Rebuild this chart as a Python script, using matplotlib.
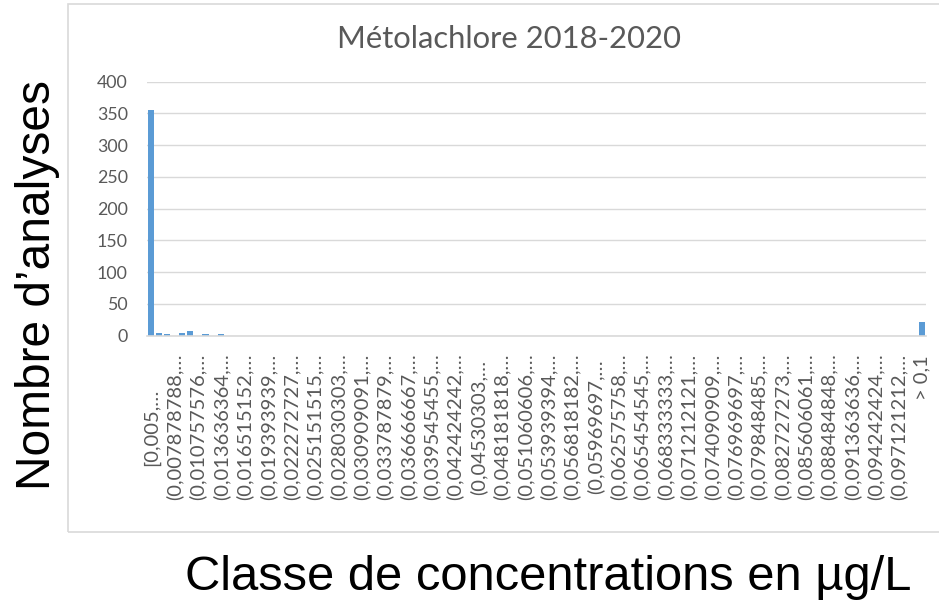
import numpy as np
import matplotlib.pyplot as plt
from matplotlib.patches import Rectangle

# Number of analyses per concentration class (99 classes of equal width + "> 0,1")
counts = [
    356, 5, 2, 0, 5, 8, 0, 2, 0, 2, 0, 0, 0, 0, 0, 0, 0, 0, 0, 0,
    0, 0, 0, 0, 0, 0, 0, 0, 0, 0, 0, 0, 0, 0, 0, 0, 0, 0, 0, 0,
    0, 0, 0, 0, 0, 0, 0, 0, 0, 0, 0, 0, 0, 0, 0, 0, 0, 0, 0, 0,
    0, 0, 0, 0, 0, 0, 0, 0, 0, 0, 0, 0, 0, 0, 0, 0, 0, 0, 0, 0,
    0, 0, 0, 0, 0, 0, 0, 0, 0, 0, 0, 0, 0, 0, 0, 0, 0, 0, 0, 21,
]

# Excel only shows every third class label (truncated), plus the overflow bin
label_every = 3
x_labels = [
    "[0,005,…", "(0,007878788,…", "(0,010757576,…", "(0,013636364,…",
    "(0,016515152,…", "(0,019393939,…", "(0,022272727,…", "(0,025151515,…",
    "(0,028030303,…", "(0,030909091,…", "(0,033787879,…", "(0,036666667,…",
    "(0,039545455,…", "(0,042424242,…", "(0,04530303,…", "(0,048181818,…",
    "(0,051060606,…", "(0,053939394,…", "(0,056818182,…", "(0,05969697,…",
    "(0,062575758,…", "(0,065454545,…", "(0,068333333,…", "(0,071212121,…",
    "(0,074090909,…", "(0,076969697,…", "(0,079848485,…", "(0,082727273,…",
    "(0,085606061,…", "(0,088484848,…", "(0,091363636,…", "(0,094242424,…",
    "(0,097121212,…", "> 0,1",
]

title = "Métolachlore 2018-2020"
x_title = "Classe de concentrations en µg/L"
y_title = "Nombre d’analyses"

plt.rcParams["font.family"] = ["Lato", "DejaVu Sans"]

W, H = 939, 605
fig = plt.figure(figsize=(W / 100, H / 100), dpi=100)

# chart area border (Excel style)
fig.patches.append(Rectangle((68 / W, 1 - 532 / H), 1.0, (532 - 4) / H,
                             transform=fig.transFigure, fill=False,
                             edgecolor="#D9D9D9", linewidth=1.2))

ax = fig.add_axes([147.2 / W, 1 - 335.7 / H, (926 - 147.2) / W, (335.7 - 81.7) / H])
x = np.arange(len(counts))
ax.bar(x, counts, width=0.8, color="#5B9BD5")
ax.set_xlim(-0.5, len(counts) - 0.5)
ax.set_ylim(0, 400)
ax.set_yticks(np.arange(0, 401, 50))
ax.set_axisbelow(True)
ax.grid(axis="y", color="#D9D9D9", linewidth=1)
for side in ["top", "right", "left"]:
    ax.spines[side].set_visible(False)
ax.spines["bottom"].set_color("#D9D9D9")
ax.spines["bottom"].set_linewidth(1.2)
ax.tick_params(axis="y", length=0, pad=14, labelsize=12.8, labelcolor="#595959")

tick_idx = list(range(0, len(counts) - 1, label_every)) + [len(counts) - 1]
ax.set_xticks(tick_idx)
ax.set_xticklabels(x_labels, rotation=90, va="center", ha="center",
                   fontsize=14.5, color="#595959")
ax.tick_params(axis="x", length=0, pad=65.7)
last = ax.get_xticklabels()[-1]
last.set_va("top")
last.set_y((91.3 - 19.3) / 254)

fig.text(509 / W, 1 - 48 / H, title, ha="center", va="baseline",
         fontsize=22.3, color="#595959")
fig.text(548 / W, 1 - 590 / H, x_title, ha="center", va="baseline",
         fontsize=35.2, family=["Liberation Sans", "DejaVu Sans"])
fig.text(38 / W, 1 - 285 / H, y_title, ha="center", va="center", rotation=90,
         fontsize=34.5, family=["Liberation Sans", "DejaVu Sans"])

fig.savefig("out.png", dpi=100)
